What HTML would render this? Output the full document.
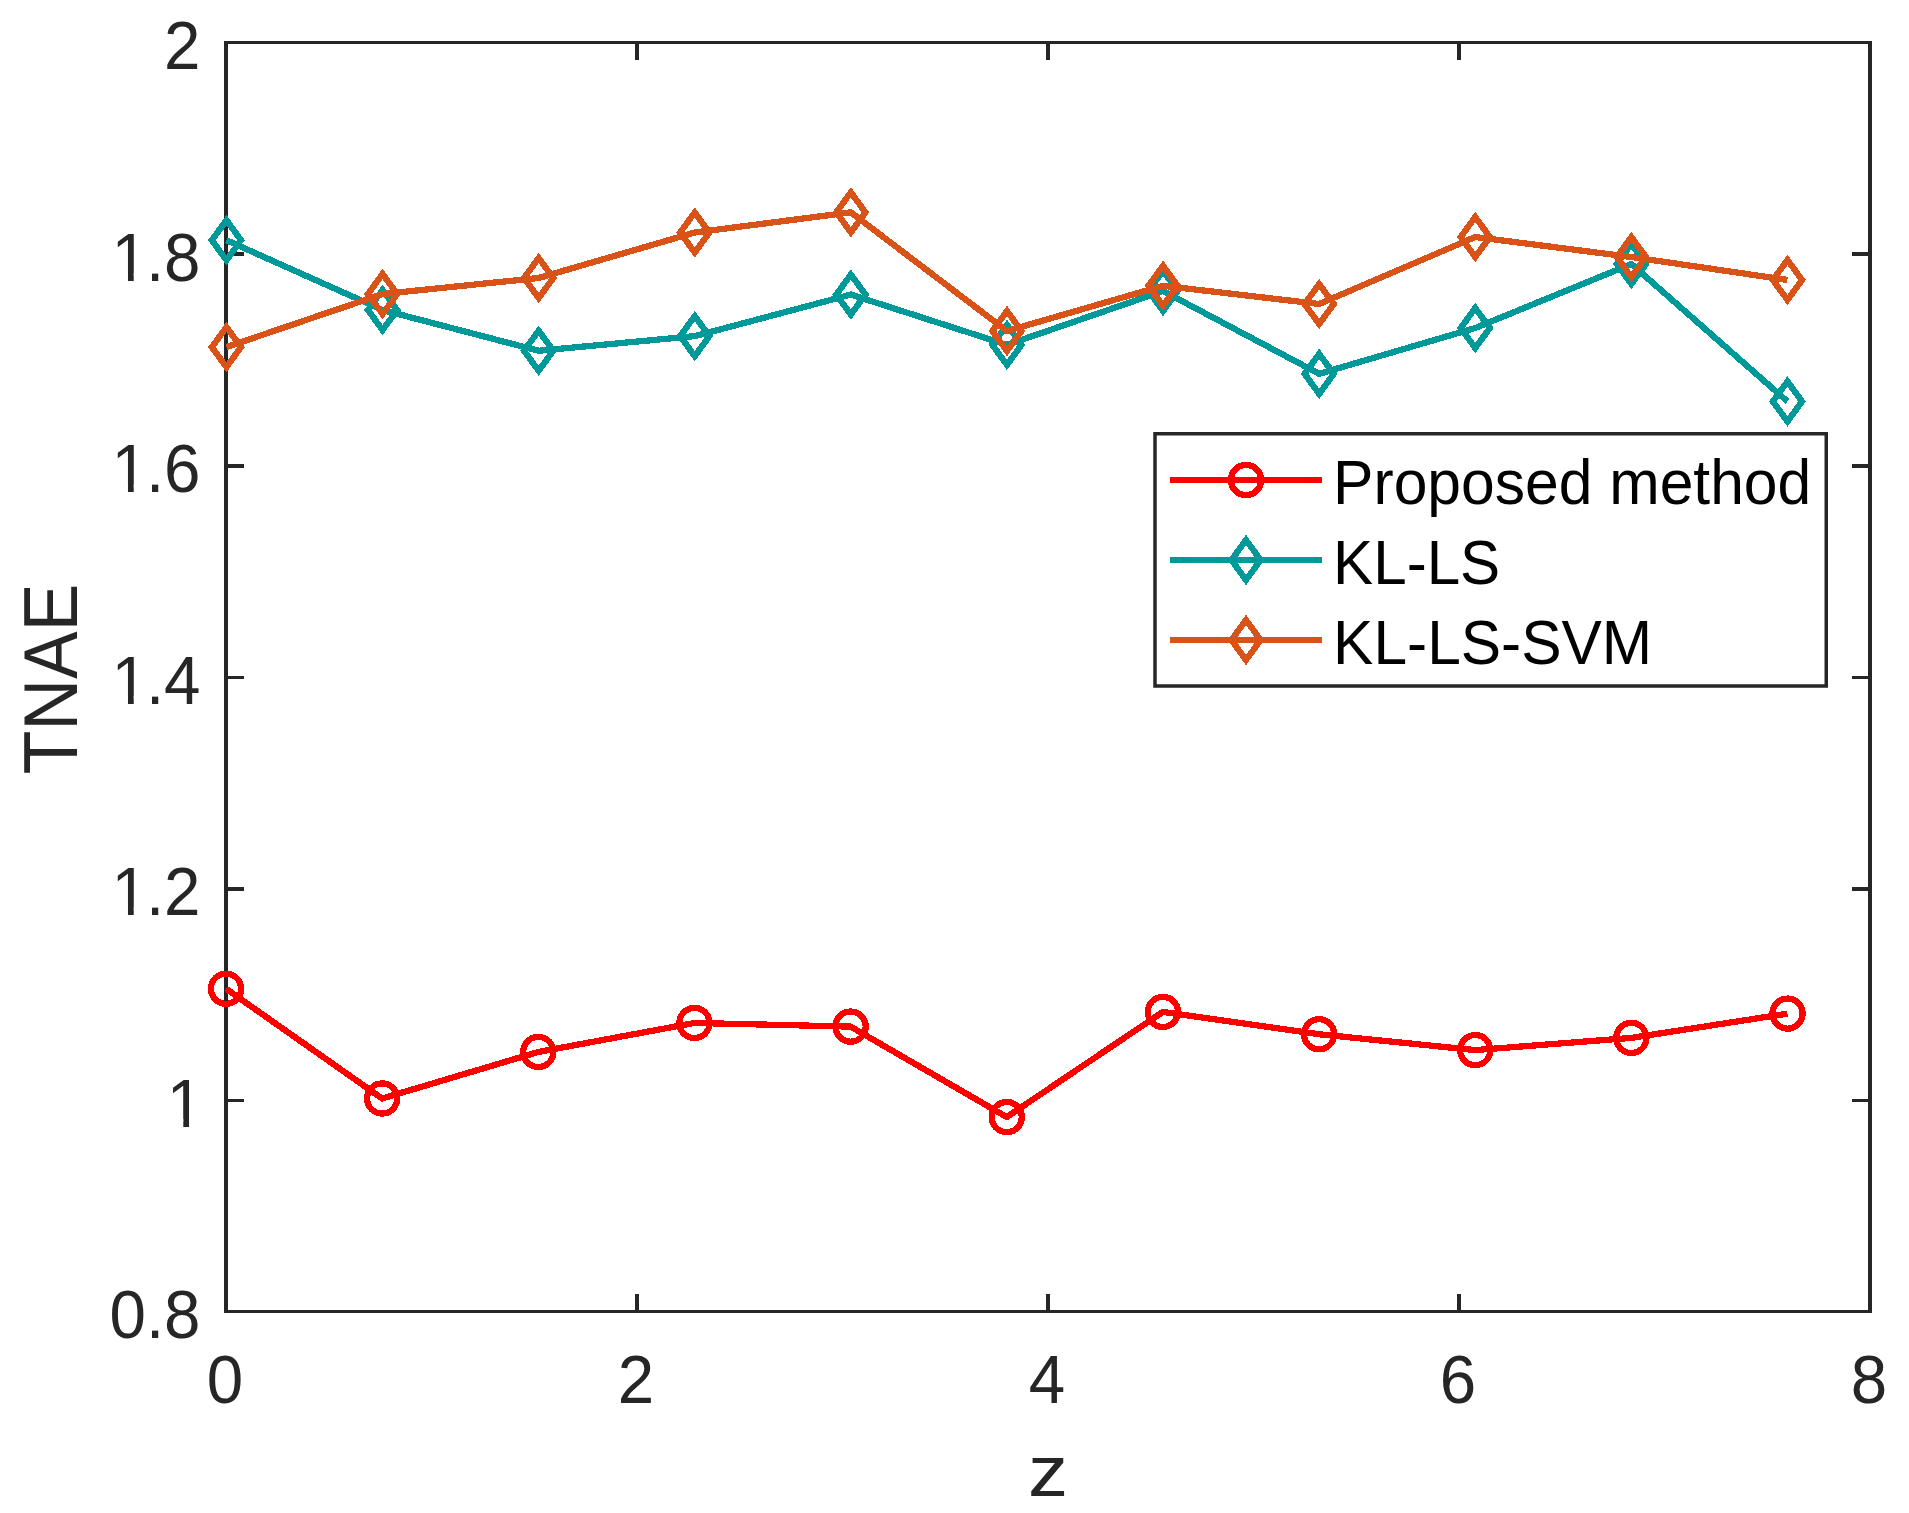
<!DOCTYPE html>
<html lang="en"><head><meta charset="utf-8"><title>TNAE versus z</title>
<style>html,body{margin:0;padding:0;background:#fff;overflow:hidden}svg{display:block}text{font-family:"Liberation Sans",Arial,Helvetica,sans-serif;font-kerning:none}</style></head><body>
<svg width="1909" height="1513" viewBox="0 0 1909 1513">
<rect width="1909" height="1513" fill="#fff"/>
<g fill="#262626" shape-rendering="crispEdges">
<rect x="224" y="41" width="4" height="1272"/>
<rect x="1868" y="41" width="4" height="1272"/>
<rect x="224" y="41" width="1648" height="3"/>
<rect x="224" y="1310" width="1648" height="3"/>
<rect x="635" y="1294" width="4" height="17"/>
<rect x="635" y="43" width="4" height="17"/>
<rect x="1046" y="1294" width="4" height="17"/>
<rect x="1046" y="43" width="4" height="17"/>
<rect x="1457" y="1294" width="4" height="17"/>
<rect x="1457" y="43" width="4" height="17"/>
<rect x="227" y="1099" width="17" height="3"/>
<rect x="1852" y="1099" width="17" height="3"/>
<rect x="227" y="887" width="17" height="4"/>
<rect x="1852" y="887" width="17" height="4"/>
<rect x="227" y="676" width="17" height="3"/>
<rect x="1852" y="676" width="17" height="3"/>
<rect x="227" y="464" width="17" height="4"/>
<rect x="1852" y="464" width="17" height="4"/>
<rect x="227" y="252" width="17" height="4"/>
<rect x="1852" y="252" width="17" height="4"/>
</g>
<g fill="#262626" font-size="67.5">
<text transform="translate(109.48,1338.00) scale(0.97,1.015)">0.8</text>
<text transform="translate(164.09,1126.50) scale(0.97,1.015)" dx="2.85">1</text>
<text transform="translate(109.48,915.00) scale(0.97,1.015)" dx="2.1 -2.1">1.2</text>
<text transform="translate(109.48,703.50) scale(0.97,1.015)" dx="2.1 -2.1">1.4</text>
<text transform="translate(109.48,492.00) scale(0.97,1.015)" dx="2.1 -2.1">1.6</text>
<text transform="translate(109.48,280.50) scale(0.97,1.015)" dx="2.1 -2.1">1.8</text>
<text transform="translate(164.09,69.00) scale(0.97,1.015)">2</text>
<text transform="translate(225.00,1403) scale(0.97,1.015)" text-anchor="middle">0</text>
<text transform="translate(636.00,1403) scale(0.97,1.015)" text-anchor="middle">2</text>
<text transform="translate(1047.00,1403) scale(0.97,1.015)" text-anchor="middle">4</text>
<text transform="translate(1458.00,1403) scale(0.97,1.015)" text-anchor="middle">6</text>
<text transform="translate(1869.00,1403) scale(0.97,1.015)" text-anchor="middle">8</text>
</g>
<g fill="#fff">
<rect x="169.35" y="1119.00" width="13.95" height="9.5"/><rect x="189.05" y="1119.00" width="13.80" height="9.5"/>
<rect x="114.02" y="907.50" width="13.95" height="9.5"/><rect x="133.72" y="907.50" width="13.80" height="9.5"/>
<rect x="114.02" y="696.00" width="13.95" height="9.5"/><rect x="133.72" y="696.00" width="13.80" height="9.5"/>
<rect x="114.02" y="484.50" width="13.95" height="9.5"/><rect x="133.72" y="484.50" width="13.80" height="9.5"/>
<rect x="114.02" y="273.00" width="13.95" height="9.5"/><rect x="133.72" y="273.00" width="13.80" height="9.5"/>
</g>
<g fill="#262626" font-size="74.5">
<text transform="translate(1047.9,1496) scale(1.075,0.975)" text-anchor="middle">z</text>
<text transform="translate(76.9,678.85) rotate(-90) scale(0.96,1.015)" text-anchor="middle">TNAE</text>
</g>
<g fill="none" stroke="#ff0000" stroke-width="6.25" stroke-linejoin="miter" shape-rendering="crispEdges">
<polyline points="226.00,988.70 382.15,1098.50 538.30,1051.95 694.45,1022.95 850.60,1026.60 1006.75,1117.05 1162.90,1011.90 1319.05,1034.25 1475.20,1050.10 1631.35,1037.90 1787.50,1013.60" stroke-linejoin="round"/>
<circle cx="226.00" cy="988.70" r="15.1"/>
<circle cx="382.15" cy="1098.50" r="15.1"/>
<circle cx="538.30" cy="1051.95" r="15.1"/>
<circle cx="694.45" cy="1022.95" r="15.1"/>
<circle cx="850.60" cy="1026.60" r="15.1"/>
<circle cx="1006.75" cy="1117.05" r="15.1"/>
<circle cx="1162.90" cy="1011.90" r="15.1"/>
<circle cx="1319.05" cy="1034.25" r="15.1"/>
<circle cx="1475.20" cy="1050.10" r="15.1"/>
<circle cx="1631.35" cy="1037.90" r="15.1"/>
<circle cx="1787.50" cy="1013.60" r="15.1"/>
</g>
<g fill="none" stroke="#009999" stroke-width="6.25" stroke-linejoin="miter" shape-rendering="crispEdges">
<polyline points="226.45,240.20 382.55,310.00 538.65,350.75 694.75,336.15 850.85,294.55 1006.95,344.90 1163.05,291.00 1319.15,373.85 1475.25,328.00 1631.35,264.00 1787.45,401.45" stroke-linejoin="round"/>
<path d="M226.45 220.20L241.05 240.20L226.45 260.20L211.85 240.20Z"/>
<path d="M382.55 290.00L397.15 310.00L382.55 330.00L367.95 310.00Z"/>
<path d="M538.65 330.75L553.25 350.75L538.65 370.75L524.05 350.75Z"/>
<path d="M694.75 316.15L709.35 336.15L694.75 356.15L680.15 336.15Z"/>
<path d="M850.85 274.55L865.45 294.55L850.85 314.55L836.25 294.55Z"/>
<path d="M1006.95 324.90L1021.55 344.90L1006.95 364.90L992.35 344.90Z"/>
<path d="M1163.05 271.00L1177.65 291.00L1163.05 311.00L1148.45 291.00Z"/>
<path d="M1319.15 353.85L1333.75 373.85L1319.15 393.85L1304.55 373.85Z"/>
<path d="M1475.25 308.00L1489.85 328.00L1475.25 348.00L1460.65 328.00Z"/>
<path d="M1631.35 244.00L1645.95 264.00L1631.35 284.00L1616.75 264.00Z"/>
<path d="M1787.45 381.45L1802.05 401.45L1787.45 421.45L1772.85 401.45Z"/>
</g>
<g fill="none" stroke="#d95319" stroke-width="6.25" stroke-linejoin="miter" shape-rendering="crispEdges">
<polyline points="226.45,347.10 382.55,294.00 538.65,278.00 694.75,232.50 850.85,212.35 1006.95,331.00 1163.05,285.75 1319.15,304.00 1475.25,237.00 1631.35,257.00 1787.45,279.95" stroke-linejoin="round"/>
<path d="M226.45 327.10L241.05 347.10L226.45 367.10L211.85 347.10Z"/>
<path d="M382.55 274.00L397.15 294.00L382.55 314.00L367.95 294.00Z"/>
<path d="M538.65 258.00L553.25 278.00L538.65 298.00L524.05 278.00Z"/>
<path d="M694.75 212.50L709.35 232.50L694.75 252.50L680.15 232.50Z"/>
<path d="M850.85 192.35L865.45 212.35L850.85 232.35L836.25 212.35Z"/>
<path d="M1006.95 311.00L1021.55 331.00L1006.95 351.00L992.35 331.00Z"/>
<path d="M1163.05 265.75L1177.65 285.75L1163.05 305.75L1148.45 285.75Z"/>
<path d="M1319.15 284.00L1333.75 304.00L1319.15 324.00L1304.55 304.00Z"/>
<path d="M1475.25 217.00L1489.85 237.00L1475.25 257.00L1460.65 237.00Z"/>
<path d="M1631.35 237.00L1645.95 257.00L1631.35 277.00L1616.75 257.00Z"/>
<path d="M1787.45 259.95L1802.05 279.95L1787.45 299.95L1772.85 279.95Z"/>
</g>
<rect x="1155" y="433.75" width="671.25" height="252.25" fill="#fff" stroke="#262626" stroke-width="3.5"/>
<g fill="none" stroke="#ff0000" stroke-width="6.25" shape-rendering="crispEdges">
<line x1="1170" y1="480" x2="1322" y2="480"/>
<circle cx="1246" cy="480" r="15.1"/>
</g>
<text transform="translate(1333.1,504) scale(0.985,1.012)" font-size="61.5" fill="#000">Proposed method</text>
<g fill="none" stroke="#009999" stroke-width="6.25" shape-rendering="crispEdges">
<line x1="1170" y1="560" x2="1322" y2="560"/>
<path d="M1246 540.0L1260.6 560L1246 580.0L1231.4 560Z"/>
</g>
<text transform="translate(1333.1,584) scale(0.978,1.012)" font-size="61.5" fill="#000">KL-LS</text>
<g fill="none" stroke="#d95319" stroke-width="6.25" shape-rendering="crispEdges">
<line x1="1170" y1="640" x2="1322" y2="640"/>
<path d="M1246 620.0L1260.6 640L1246 660.0L1231.4 640Z"/>
</g>
<text transform="translate(1333.1,664) scale(0.983,1.012)" font-size="61.5" fill="#000">KL-LS-SVM</text>
</svg></body></html>
